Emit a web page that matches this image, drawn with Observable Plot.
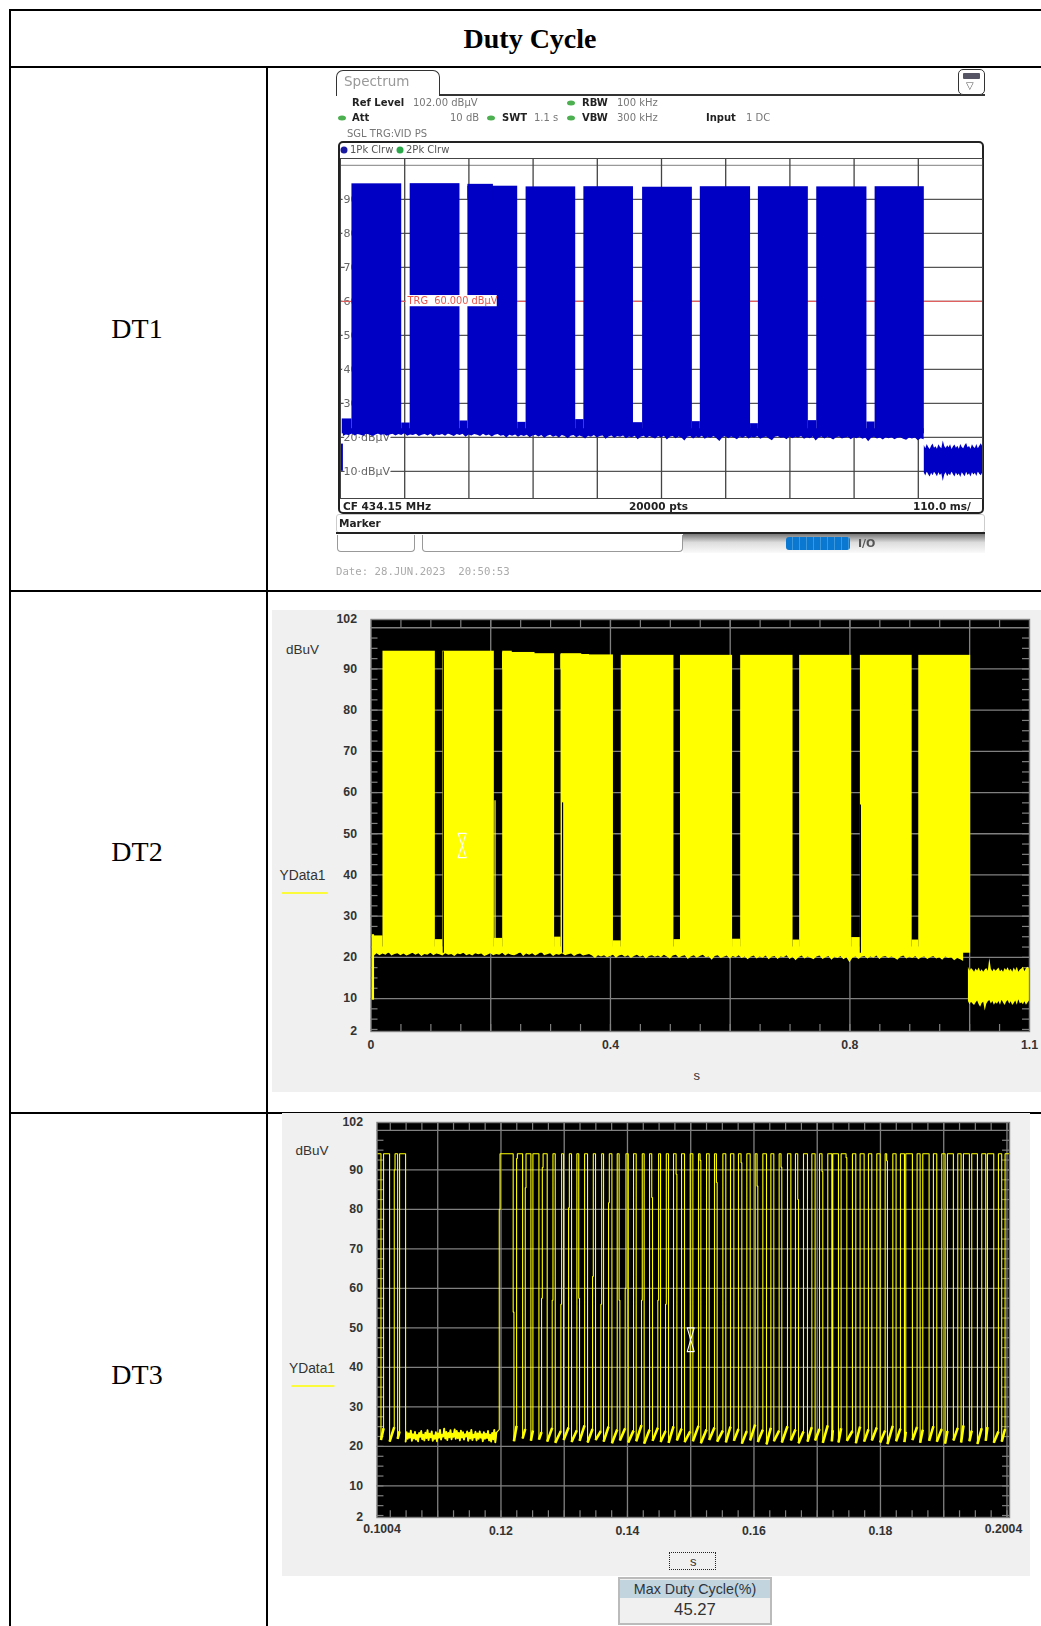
<!DOCTYPE html>
<html><head><meta charset="utf-8">
<script src="https://cdn.jsdelivr.net/npm/d3@7"></script>
<script src="https://cdn.jsdelivr.net/npm/@observablehq/plot@0.6"></script>
<style>
html,body{margin:0;padding:0;background:#fff}
#page{position:relative;width:1041px;height:1626px;overflow:hidden;background:#fff;font-family:"Liberation Sans",Arial,sans-serif}
.line{position:absolute;background:#000}
.serif{position:absolute;font-family:"Liberation Serif",serif;color:#000;line-height:1;transform:translate(-50%,-50%);white-space:pre}
.t{position:absolute;white-space:pre;line-height:1;transform:translateY(-50%);font-family:"DejaVu Sans",sans-serif;font-size:10px;color:#777}
.b{font-weight:bold;color:#222}
.box{position:absolute;box-sizing:border-box}
.dot{position:absolute;width:8px;height:5px;border-radius:50%;background:#4caf50;transform:translate(-50%,-50%)}
.chart{position:absolute}
.chart svg{display:block}
#spec{position:absolute;left:0;top:0;width:1041px;height:589px;filter:blur(.6px)}
#soft{filter:blur(.3px)}
</style></head><body><div id="page">
<div class="line" style="left:9px;top:9px;width:1032px;height:2px"></div>
<div class="line" style="left:9px;top:66px;width:1032px;height:2px"></div>
<div class="line" style="left:9px;top:590px;width:1032px;height:2px"></div>
<div class="line" style="left:9px;top:1112px;width:1032px;height:2px"></div>
<div class="line" style="left:9px;top:9px;width:2px;height:1617px"></div>
<div class="line" style="left:266px;top:66px;width:2px;height:1560px"></div>
<div class="serif" style="left:530px;top:39px;font-size:28px;font-weight:bold">Duty Cycle</div>
<div class="serif" style="left:137px;top:329px;font-size:28px">DT1</div>
<div class="serif" style="left:137px;top:851.5px;font-size:28px">DT2</div>
<div class="serif" style="left:137px;top:1374.5px;font-size:28px">DT3</div>

<div id="spec">
  <div class="box" style="left:336px;top:70px;width:104px;height:26px;border:1.5px solid #333;border-bottom:none;border-radius:7px 7px 0 0"></div>
  <div class="box" style="left:439px;top:94px;width:546px;height:1.5px;background:#333"></div>
  <div class="box" style="left:958px;top:69px;width:27px;height:26px;border:1.5px solid #333;border-radius:5px;background:#fff"></div>
  <div class="box" style="left:963px;top:73px;width:17px;height:6px;background:#556;border-radius:1px"></div>
  <div class="t" style="left:966px;top:86px;font-size:10px;color:#555">▽</div>
  <div class="t" style="left:344px;top:82px;font-size:13.5px;color:#999">Spectrum</div>
  <div class="t b" style="left:352px;top:103px">Ref Level</div><div class="t" style="left:413px;top:103px">102.00 dBµV</div>
  <div class="dot" style="left:571px;top:103px"></div><div class="t b" style="left:582px;top:103px">RBW</div><div class="t" style="left:617px;top:103px">100 kHz</div>
  <div class="dot" style="left:342px;top:118px"></div><div class="t b" style="left:352px;top:118px">Att</div><div class="t" style="left:450px;top:118px">10 dB</div>
  <div class="dot" style="left:491px;top:118px"></div><div class="t b" style="left:502px;top:118px">SWT</div><div class="t" style="left:534px;top:118px">1.1 s</div>
  <div class="dot" style="left:571px;top:118px"></div><div class="t b" style="left:582px;top:118px">VBW</div><div class="t" style="left:617px;top:118px">300 kHz</div>
  <div class="t b" style="left:706px;top:118px">Input</div><div class="t" style="left:746px;top:118px">1 DC</div>
  <div class="t" style="left:347px;top:134px">SGL TRG:VID PS</div>
  <div class="box" style="left:338px;top:141px;width:646px;height:373px;border:2px solid #222;border-radius:5px"></div>
  <div class="dot" style="left:344px;top:149.5px;width:7px;height:7px;background:#1a1aa0"></div><div class="t" style="left:350px;top:149.5px;color:#555">1Pk Clrw</div>
  <div class="dot" style="left:400px;top:149.5px;width:7px;height:7px;background:#2aa84a"></div><div class="t" style="left:406px;top:149.5px;color:#555">2Pk Clrw</div>
  <div class="chart" id="c1" style="left:340px;top:158px"></div>
  <div class="t b" style="left:343px;top:506px;font-size:10.5px">CF 434.15 MHz</div>
  <div class="t b" style="left:629px;top:506px;font-size:10.5px">20000 pts</div>
  <div class="t b" style="left:913px;top:506px;font-size:10.5px">110.0 ms/</div>
  <div class="box" style="left:336px;top:514px;width:649px;height:19px;border:1px solid #ccc;border-radius:3px"></div>
  <div class="t b" style="left:339px;top:523px;font-size:10.5px">Marker</div>
  <div class="box" style="left:336px;top:532px;width:649px;height:2px;background:#222"></div>
  <div class="box" style="left:683px;top:534px;width:302px;height:19px;background:linear-gradient(#777,#ddd 45%,#fafafa)"></div>
  <div class="box" style="left:337px;top:535px;width:78px;height:17px;border:1px solid #999;border-top:none;border-radius:0 0 4px 4px"></div>
  <div class="box" style="left:422px;top:535px;width:261px;height:17px;border:1px solid #999;border-top:none;border-radius:0 0 4px 4px"></div>
  <div class="box" style="left:786px;top:537px;width:64px;height:12.5px;border-radius:3px;background:repeating-linear-gradient(90deg,#0a78d0 0 6px,#3c98dc 6px 7px)"></div>
  <div class="t" style="left:858px;top:543px;font-size:11px;font-weight:bold;color:#555">I/O</div>
  <div class="t" style="left:336px;top:572px;font-family:'DejaVu Sans Mono',monospace;font-size:10.7px;color:#aaa">Date: 28.JUN.2023  20:50:53</div>
</div>

<div id="soft">
<div class="chart" id="c2" style="left:272px;top:610px"></div>
<div class="chart" id="c3" style="left:282px;top:1113px"></div>
<div class="box" style="left:669px;top:1552px;width:47px;height:18px;border:1px dotted #222"></div>
<div class="box" style="left:618px;top:1577px;width:154px;height:48px;border:2px solid #bbb;background:#f0f0f0">
  <div style="height:18px;margin-top:1px;background:#c2d4de;font-size:14.3px;line-height:18px;text-align:center;color:#2c3440;white-space:nowrap">Max Duty Cycle(%)</div>
  <div style="text-align:center;font-size:16.7px;line-height:24px;color:#333">45.27</div>
</div>
</div>
</div>
<script>
// ---------- DT1 : spectrum analyser sweep, x in ms, y in dBµV
const d1YTicks=[10,20,30,40,50,60,70,80,90,100];
const d1XTicks=[110,220,330,440,550,660,770,880,990];
const d1LabelVals=[10,20,30,40,50,60,70,80,90];
const d1BurstStart=[19.6,119.4,218.3,318,417,517.6,616.5,716,816,916];
const d1BurstEnd=[104.9,204.7,303.6,403,502,602.9,702.6,801.6,902,1000.3];
const d1BurstTop=[94.55,94.6,93.85,93.65,93.7,93.55,93.7,93.7,93.65,93.7];
const d1CapStart=[218.3];const d1CapEnd=[262];const d1CapTop=[94.4];
const d1StubTop=[25.4,24.2,24.8,24.4,25.2,24.3,24.6,24.0,24.9,24.5];
const d1Floor=[20.9,20.2,20.7,20.5,21.0,20.4,20.8,20.6,20.3,20.9,20.7,20.2,20.6,21.0,20.5,20.8,20.3,20.7,20.9,20.4,20.8,20.5,21.1,20.3,20.7,20.5,20.9,20.2,20.6,20.8,20.4,20.9,20.1,20.7,20.5,20.8,20.3,21.0,20.6,20.2,20.8,20.5,20.9,20.0,20.7,20.4,20.8,20.6,20.2,20.9,20.4,20.7,20.1,20.6,20.8,20.3,20.5,19.8,20.6,20.3,20.7,20.0,20.5,20.2,20.6,19.9,20.4,20.6,20.1,20.5,19.7,20.3,20.6,20.0,20.4,19.8,20.5,20.2,19.6,20.3,20.5,19.9,20.4,20.1,19.5,20.3,20.0,20.5,19.8,20.2,20.4,19.4,20.1,20.4,19.7,20.2,20.0,20.4,19.6,20.1,19.9,20.3,19.3,20.0,20.3,19.7,20.2,19.9,19.5,20.2,19.8,20.3,19.2,20.0,20.2,19.6,20.1,19.8,18.9,20.0,20.2,19.5,20.1,19.8,20.3,19.4,20.0,19.7,20.2,19.6,18.8,19.9,20.2,19.6,20.1,19.8,19.3,20.1,19.7,20.2,19.5,20.0,19.8,20.2,19.4,19.9,20.1,19.5,19.0,20.0,20.2,19.7,19.9,19.3,20.1,19.6,20.0,19.8,20.2,19.4,19.9,19.6,20.1,18.9,19.8,20.1,19.5,20.0,19.7,19.2,19.9,20.1,19.5,19.8,20.0,19.3,19.9,19.6,20.0,19.4,19.8,18.7,19.7,20.0,19.5,19.8,19.2,19.9,19.6,19.9,19.3,19.7,19.9,19.4,19.1,19.8,19.5,19.8,19.0,19.6,19.3];
const d1FloorStep=5;
const d1NoiseStart=1000.3,d1NoiseStep=2.5;
const d1NoiseTop=[17.6,16.6,17.9,17.0,16.4,17.4,18.0,16.8,17.2,16.5,17.8,17.1,16.6,18.9,17.3,16.7,17.5,16.9,17.8,16.4,17.2,17.7,16.8,17.4,16.5,17.9,17.0,16.6,17.6,18.2,16.9,17.3,16.5,17.8,17.1,16.7,17.9,16.6,17.4,18.1,17.3];
const d1NoiseLow=[9.5,8.6,9.8,9.0,8.3,9.4,8.7,9.7,9.1,8.4,9.6,8.8,9.3,7.0,8.9,9.6,8.4,9.2,8.7,9.8,9.0,8.3,9.5,8.7,9.2,8.2,9.6,9.0,8.4,9.7,8.8,9.3,8.3,9.6,8.9,9.4,8.5,9.8,9.1,8.7,9.5];
const d1SpikeX=[2];const d1SpikeLow=[10];const d1SpikeHigh=[18];
const d1TrgLevel=[60];
const d1TrgBox={x1:112.7,x2:268.6,y1:58.4,y2:61.7};

// ---------- DT2 : x in s, y in dBuV
const d2YLabels=[2,10,20,30,40,50,60,70,80,90,102];
const d2XLabels=[0,0.4,0.8,1.1];
const d2Grid=[10,20,30,40,50,60,70,80,90,100];
const d2XGrid=[0.2,0.4,0.6,0.8,1.0];
const d2BurstStart=[0.02,0.12,0.22,0.3175,0.418,0.517,0.6175,0.716,0.8175,0.915];
const d2BurstEnd=[0.1075,0.206,0.3067,0.405,0.506,0.604,0.705,0.803,0.904,1.0017];
const d2BurstTop=[94.3,94.3,93.7,93.4,93.3,93.3,93.3,93.3,93.3,93.3];
const d2CapStart=[0.22,0.22,0.3175,0.3175];const d2CapEnd=[0.236,0.274,0.352,0.365];const d2CapTop=[94.3,94.0,93.7,93.5];
const d2StubTop=[25.2,24.3,24.6,24.9,24.0,24.3,24.4,24.2,24.8,24.2];
const d2Floor=[20.7,20.2,20.9,20.4,20.8,20.5,21.1,20.3,20.7,20.9,20.4,20.8,20.3,20.6,21.0,20.5,20.9,20.2,20.7,20.5,21.0,20.4,20.8,20.6,20.3,20.9,20.5,20.7,20.2,20.8,20.6,21.0,20.4,20.7,20.3,20.9,20.6,20.8,20.2,20.5,20.9,20.4,20.7,20.5,21.0,20.3,20.8,20.5,20.4,20.7,21.2,20.2,20.8,20.5,20.9,20.3,20.7,21.3,20.4,20.6,20.9,20.2,20.7,20.5,20.9,20.4,20.6,20.8,20.2,20.6,20.8,20.3,20.5,20.7,20.3,19.7,20.4,20.1,20.4,19.9,20.2,20.5,19.8,20.3,20.5,20.0,20.4,19.7,20.2,20.5,20.0,20.3,19.6,20.2,20.4,20.0,20.3,19.9,20.5,20.1,19.6,20.3,20.5,19.8,20.2,20.4,19.5,20.1,20.4,19.8,20.2,20.5,19.9,20.1,19.3,20.2,20.4,19.7,20.0,20.3,19.6,20.2,19.9,20.4,19.7,20.1,19.4,20.0,20.3,19.6,20.1,19.8,20.3,19.4,20.0,20.2,19.5,20.1,19.9,20.4,19.5,20.0,19.2,19.9,20.3,19.6,20.1,19.8,19.4,20.1,20.3,19.5,19.9,20.2,19.3,20.0,19.7,20.2,19.4,19.9,18.7,19.8,20.1,19.5,20.0,20.2,19.6,20.1,19.8,20.3,19.5,20.0,20.2,19.7,20.1,19.8,19.3,20.0,20.3,19.6,20.0,19.7,20.2,19.4,19.9,20.1,19.5,19.9,20.2,19.6,19.9,19.3,20.1,19.7,19.9,19.2,19.7,19.4,19.0];
const d2FloorStep=0.005;
const d2NoiseStart=0.998,d2NoiseStep=0.00255;
const d2NoiseTop=[17.6,16.6,17.3,16.9,16.4,17.2,16.7,17.4,16.5,17.0,16.4,16.9,17.3,16.6,19.7,17.1,16.5,17.2,16.6,17.0,17.4,16.5,16.9,16.4,17.3,16.8,17.5,16.6,17.1,16.4,17.4,16.7,17.6,16.4,16.9,17.2,17.6,16.5,17.3,17.6,17.2];
const d2NoiseLow=[9.3,8.5,9.1,8.7,8.3,8.9,9.4,8.5,7.9,8.8,9.1,7.0,8.6,9.2,9.5,8.7,9.3,8.4,9.0,8.6,9.3,8.4,9.6,8.9,8.3,9.1,9.5,8.6,9.2,8.3,8.8,9.4,8.4,9.7,8.7,9.0,8.5,9.2,8.4,8.9,9.4];
const d2SpikeX=[0.003];const d2SpikeLow=[9.6];const d2SpikeHigh=[25.5];
const d2SliverX=[0.1208,0.32,0.8175];const d2SliverTop=[94.2,57.5,57];const d2SliverLow=[21,21,21];
const d2EdgeX=[0.2072];const d2EdgeTop=[58];const d2EdgeLow=[24];
const d2Cursor={x:0.1522,half:0.0067,top:50.1,bottom:44.2};

// ---------- DT3 : pulse train, times in ms, y in dBuV
const d3YLabels=[2,10,20,30,40,50,60,70,80,90,102];
const d3XLabels=[0.12,0.14,0.16,0.18];
const d3Grid=[10,20,30,40,50,60,70,80,90,100];
const d3XGrid=[0.11,0.12,0.13,0.14,0.15,0.16,0.17,0.18,0.19,0.2];
const d3Start=100.4,d3End=200.4,d3High=94.1;
const d3Rise=[100.49,101.44,103.13,103.97,119.73,122.47,123.84,125.05,126.42,128.1,129.47,130.69,132.0,133.22,134.48,135.8,137.01,138.38,139.64,140.96,142.22,143.49,144.8,146.02,147.28,148.55,149.92,151.23,152.5,153.76,155.08,156.29,157.55,158.87,160.19,161.4,162.67,163.98,165.3,166.56,167.83,169.15,170.36,171.67,172.46,173.78,175.57,176.78,178.1,179.42,180.74,181.95,183.16,184.0,185.79,186.69,188.37,189.69,190.59,192.22,193.12,194.43,196.01,196.91,198.65,199.7];
const d3Fall=[101.03,102.39,103.66,104.92,122.05,123.42,124.73,126.0,127.31,128.58,129.9,131.16,132.42,133.69,134.95,136.22,137.54,138.8,140.12,141.38,142.64,143.96,145.23,146.49,147.81,149.02,150.34,151.6,152.92,154.18,155.55,156.82,158.08,159.4,160.61,161.98,163.14,164.4,165.83,167.04,168.46,169.67,170.88,172.31,173.36,174.68,176.1,177.42,178.63,179.95,181.1,182.47,183.79,185.05,186.27,187.69,188.9,190.22,191.53,192.75,194.06,195.33,196.64,197.91,199.17,200.4];
const d3GapLow=[21.6,21.2,21.9,21.5,21.3,22.0,21.4,21.7,21.2,20.9,21.6,21.1,21.4,21.0,21.6,21.2,20.8,21.5,21.0,21.3,20.7,21.4,21.1,20.9,21.5,21.1,21.3,20.8,21.6,21.2,21.0,21.4,20.7,21.5,21.1,20.5,21.3,21.0,21.5,20.8,21.2,21.5,20.9,21.3,21.0,21.4,20.8,21.2,21.5,21.0,20.6,21.3,21.1,21.6,20.9,21.4,21.2,20.7,21.5,21.0,21.3,20.6,21.4,20.9,21.2];
const d3GapHigh=[24.6,24.9,23.8,24.2,25.2,24.4,24.0,23.6,24.7,23.9,24.8,24.1,25.3,24.4,23.9,25.0,24.3,24.6,24.0,25.4,24.2,24.7,23.9,25.1,24.5,23.8,25.2,24.3,24.8,24.0,25.0,24.4,23.9,25.5,24.2,24.7,24.0,25.1,24.3,23.8,24.9,24.4,25.3,24.1,24.6,23.9,25.0,24.3,24.8,24.0,25.2,24.5,23.7,24.9,24.2,25.1,24.4,23.9,24.7,25.3,24.0,24.6,24.9,23.8,24.4];
const d3FloorStep=0.165;
const d3Floor=[21.2,23.6,21.9,23.3,22.2,24.0,21.4,23.1,22.0,23.7,21.7,22.9,21.3,23.4,22.4,23.9,21.8,23.0,21.5,23.5,22.1,24.1,21.6,23.2,22.3,23.8,21.4,22.8,21.9,23.6,21.3,23.3,22.2,24.2,21.7,23.0,22.5,24.5,22.0,23.7,21.6,23.4,22.3,24.1,21.8,23.2,22.4,24.3,21.9,23.9,22.1,23.4,21.5,24.0,22.2,23.6,21.7,23.1,22.5,23.8,21.4,23.5,22.0,24.2,21.6,23.0,22.3,23.7,21.5,23.3,21.9,23.8,22.2,23.1,21.3,23.6,21.9,23.2,22.1,23.9,21.5,23.0,21.2,23.4,21.8,24.2,21.0,23.5];
const d3RiseStepPulse=[2,4,5,6,8,8,9,10,11,14,15,16,18,20,22,23];
const d3RiseStepLevel=[90,80,92.9,85.5,57.5,90.6,57,56,80.4,63,56,81.7,60,57,57,56];
const d3FallStepPulse=[4,12,17,21,24,27,29,32,34,37,39,42,45,50];
const d3FallStepLevel=[54,57.5,57,83,88.9,92.4,86.8,91.8,85.9,90.7,82.5,89.6,93.1,92.3];
const d3Cursor={x:0.15,half:0.00055,top:50,bottom:44};

// ---------- helpers building rows from the arrays above
const zipBursts=(a,b,c)=>a.map((s,i)=>({s,e:b[i],t:c[i]}));
const floorRows=(arr,step)=>arr.map((v,i)=>({x:i*step,y:v}));
const noiseRows=(top,low,start,step)=>top.map((v,i)=>({x:start+i*step,top:v,low:low[i]}));
const gaps=(start,end,stub,x0)=>stub.map((t,i)=>({s:i===0?x0:end[i-1],e:start[i],t}));
function hourglass(c){return [[c.x-c.half,c.top],[c.x+c.half,c.top],[c.x-c.half,c.bottom],[c.x+c.half,c.bottom],[c.x-c.half,c.top]]}

// ---------- DT1 chart
const blue="#0000c4";
document.getElementById("c1").append(Plot.plot({
  width:642,height:340,margin:0,
  x:{domain:[0,1100],axis:null},y:{domain:[2,102],axis:null},
  style:{background:"#fff",overflow:"visible"},
  marks:[
    Plot.ruleY(d1YTicks,{stroke:d=>d===100?"#999":"#555",strokeWidth:1.3}),
    Plot.ruleX(d1XTicks,{stroke:"#444",strokeWidth:1.3}),
    Plot.text(d1LabelVals,{frameAnchor:"left",y:d=>d,text:d=>d+" dBµV",dx:3,textAnchor:"start",fontFamily:"DejaVu Sans",fontSize:11,fill:"#666",stroke:"#fff",strokeWidth:4}),
    Plot.ruleY(d1TrgLevel,{stroke:"#e06060",strokeWidth:1.3}),
    Plot.rect(zipBursts(d1BurstStart,d1BurstEnd,d1BurstTop),{x1:"s",x2:"e",y1:21,y2:"t",fill:blue}),
    Plot.rect(zipBursts(d1CapStart,d1CapEnd,d1CapTop),{x1:"s",x2:"e",y1:90,y2:"t",fill:blue}),
    Plot.rect(gaps(d1BurstStart,d1BurstEnd,d1StubTop,3),{x1:"s",x2:"e",y1:21,y2:"t",fill:blue}),
    Plot.areaY(floorRows(d1Floor,d1FloorStep).filter(d=>d.x>=3),{x:"x",y1:"y",y2:22.5,fill:blue}),
    Plot.areaY(noiseRows(d1NoiseTop,d1NoiseLow,d1NoiseStart,d1NoiseStep),{x:"x",y1:"low",y2:"top",fill:blue}),
    Plot.ruleX(d1SpikeX,{y1:d1SpikeLow[0],y2:d1SpikeHigh[0],stroke:blue,strokeWidth:2.5}),
    Plot.rect([d1TrgBox],{x1:"x1",x2:"x2",y1:"y1",y2:"y2",fill:"#fff"}),
    Plot.text(["TRG  60.000 dBµV"],{x:()=>115,y:()=>60,text:d=>d,textAnchor:"start",fontFamily:"DejaVu Sans",fontSize:9.8,fill:"#e8564c"}),
    Plot.frame({stroke:"#444",strokeWidth:1})
  ]}));

// ---------- shared instrument panel marks
function scopeFrame(o){
  const tickW=o.tickW;
  return [
    Plot.ruleY(o.grid,{stroke:"#808080",strokeWidth:1.3}),
    Plot.ruleX(o.xGrid,{stroke:"#808080",strokeWidth:1.3}),
    Plot.ruleX(o.minorX,{y1:100,y2:102,stroke:"#808080",strokeWidth:1.2}),
    Plot.ruleX(o.minorX,{y1:2,y2:3.7,stroke:"#808080",strokeWidth:1.2}),
    Plot.ruleY(o.minorY,{x1:o.x0,x2:o.x0+tickW,stroke:"#808080",strokeWidth:1.2}),
    Plot.ruleY(o.minorY,{x1:o.x1-tickW,x2:o.x1,stroke:"#808080",strokeWidth:1.2}),
  ];
}
function scopeText(o){
  const font={fontFamily:"Liberation Sans",fill:"#333"};
  return [
    Plot.frame({stroke:"#808080",strokeWidth:1.4}),
    Plot.axisY(o.yLabels,{tickSize:0,tickPadding:o.pad,fontSize:12.3,fontWeight:"bold",label:null,tickFormat:String,...font}),
    Plot.axisX(o.xLabels,{tickSize:0,tickPadding:o.padX,fontSize:12.3,fontWeight:"bold",label:null,tickFormat:String,...font}),
    Plot.text(["dBuV"],{frameAnchor:"left",y:()=>o.dbY,dx:o.labelDx,textAnchor:"middle",text:d=>d,fontSize:13.5,...font}),
    Plot.text(["YData1"],{frameAnchor:"left",y:()=>o.yDataY,dx:o.labelDx,textAnchor:"middle",text:d=>d,fontSize:13.8,...font}),
    Plot.ruleY([o.lineY],{x1:o.lineX1,x2:o.lineX2,stroke:"#ffff00",strokeWidth:1.5}),
    Plot.text(["s"],{frameAnchor:"bottom",x:()=>o.sX,dy:o.sDy,lineAnchor:"middle",text:d=>d,fontSize:13,...font}),
  ];
}

// ---------- DT2 chart
const yel="#ffff00";
document.getElementById("c2").append(Plot.plot({
  width:769,height:482,marginLeft:98.5,marginRight:12,marginTop:9,marginBottom:61,
  x:{domain:[0,1.1],axis:null},y:{domain:[2,102],axis:null},
  style:{background:"#f0f0f0",overflow:"visible"},
  marks:[
    Plot.frame({fill:"#000"}),
    ...scopeFrame({grid:d2Grid,xGrid:d2XGrid,minorX:d3.range(0.05,1.1,0.05),minorY:d3.range(2.5,100,2.5),x0:0,x1:1.1,tickW:0.0117}),
    Plot.rect(zipBursts(d2BurstStart,d2BurstEnd,d2BurstTop),{x1:"s",x2:"e",y1:21,y2:"t",fill:yel}),
    Plot.rect(zipBursts(d2CapStart,d2CapEnd,d2CapTop),{x1:"s",x2:"e",y1:90,y2:"t",fill:yel}),
    Plot.rect(gaps(d2BurstStart,d2BurstEnd,d2StubTop,0.005),{x1:"s",x2:"e",y1:21,y2:"t",fill:yel}),
    Plot.areaY(floorRows(d2Floor,d2FloorStep).filter(d=>d.x>=0.005),{x:"x",y1:"y",y2:22.5,fill:yel}),
    Plot.areaY(noiseRows(d2NoiseTop,d2NoiseLow,d2NoiseStart,d2NoiseStep),{x:"x",y1:"low",y2:"top",fill:yel}),
    Plot.ruleX(d2SpikeX,{y1:d2SpikeLow[0],y2:d2SpikeHigh[0],stroke:yel,strokeWidth:2.5}),
    Plot.ruleX(d2SliverX,{y1:(d,i)=>d2SliverLow[i],y2:(d,i)=>d2SliverTop[i],stroke:"#000",strokeWidth:1.2}),
    Plot.ruleX(d2EdgeX,{y1:(d,i)=>d2EdgeLow[i],y2:(d,i)=>d2EdgeTop[i],stroke:yel,strokeWidth:1.2}),
    Plot.line(hourglass(d2Cursor),{x:d=>d[0],y:d=>d[1],stroke:"#fff",strokeWidth:1.2}),
    ...scopeText({yLabels:d2YLabels,xLabels:d2XLabels,pad:14,padX:9,dbY:94.7,yDataY:39.8,labelDx:-68.5,lineY:35.6,lineX1:-0.148,lineX2:-0.0712,sX:0.544,sDy:44.5})
  ]}));

// ---------- DT3 chart : the trace is built vertex by vertex from the read pulse edges
function pulseTrace(){
  const pts=[];const add=(t,v)=>pts.push({x:t/1000,y:v});
  const stepW=0.12;
  d3Rise.forEach((r,i)=>{
    const rs=d3RiseStepLevel.filter((_,k)=>d3RiseStepPulse[k]===i).sort((a,b)=>a-b);
    let xr=r;
    rs.forEach(l=>{add(xr,l);xr+=stepW;add(xr,l);});
    add(xr,d3High);
    const fs=d3FallStepLevel.filter((_,k)=>d3FallStepPulse[k]===i);
    let xf=d3Fall[i];
    if(fs.length){add(xf-stepW,d3High);add(xf-stepW,fs[0]);add(xf,fs[0]);} else add(xf,d3High);
    if(i<d3GapLow.length){
      add(xf,d3GapLow[i]);
      if(i===3){
        d3Floor.forEach((v,k)=>add(xf+k*d3FloorStep,v));
        add(d3Rise[4]-0.05,d3GapHigh[i]);
      } else add(d3Rise[i+1]-0.03,d3GapHigh[i]);
      add(d3Rise[i+1],d3GapHigh[i]);
    }
  });
  return pts;
}
const trace=pulseTrace();
const gapLinks=d3GapLow.map((l,i)=>({x1:d3Fall[i]/1000,x2:d3Rise[i+1]/1000,y1:l,y2:d3GapHigh[i]})).filter((d,i)=>i!==3);
const floorLine=d3Floor.map((v,k)=>({x:(d3Fall[3]+k*d3FloorStep)/1000,y:v}));
document.getElementById("c3").append(Plot.plot({
  width:748,height:463,marginLeft:94.5,marginRight:21,marginTop:9,marginBottom:59,
  x:{domain:[d3Start/1000,d3End/1000],axis:null},y:{domain:[2,102],axis:null},
  style:{background:"#f0f0f0",overflow:"visible"},
  marks:[
    Plot.frame({fill:"#000"}),
    ...scopeFrame({grid:d3Grid,xGrid:d3XGrid,minorX:d3.range(0.1025,0.2004,0.0025),minorY:d3.range(2.5,100,2.5),x0:0.1004,x1:0.2004,tickW:0.0011}),
    Plot.line(trace,{x:"x",y:"y",stroke:yel,strokeWidth:1.1,strokeLinejoin:"miter"}),
    Plot.link(gapLinks,{x1:"x1",x2:"x2",y1:"y1",y2:"y2",stroke:yel,strokeWidth:2.6}),
    Plot.line(floorLine,{x:"x",y:"y",stroke:yel,strokeWidth:1.8}),
    Plot.line(hourglass(d3Cursor),{x:d=>d[0],y:d=>d[1],stroke:"#fff",strokeWidth:1.1}),
    ...scopeText({yLabels:d3YLabels,xLabels:d3XLabels,pad:14,padX:9,dbY:94.8,yDataY:39.7,labelDx:-65,lineY:35.3,lineX1:0.0869,lineX2:0.09375,sX:0.1504,sDy:44.5}),
    Plot.text(["0.1004"],{x:()=>0.1004,frameAnchor:"bottom",dy:15,dx:5,text:d=>d,fontSize:12.3,fontWeight:"bold",fontFamily:"Liberation Sans",fill:"#333"}),
    Plot.text(["0.2004"],{x:()=>0.2004,frameAnchor:"bottom",dy:15,dx:-6,text:d=>d,fontSize:12.3,fontWeight:"bold",fontFamily:"Liberation Sans",fill:"#333"}),
  ]}));
</script>
</body></html>
